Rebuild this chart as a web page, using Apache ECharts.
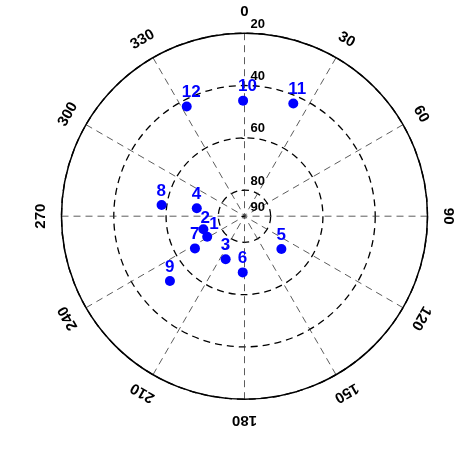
<!DOCTYPE html>
<html>
<head>
<meta charset="utf-8">
<script src="https://cdn.jsdelivr.net/npm/echarts@6/dist/echarts.min.js"></script>
<style>html,body{margin:0;padding:0;background:#fff;}#c{width:473px;height:449px;}</style>
</head>
<body>
<div id="c"></div>
<script>
const satIds = ['1','2','3','4','5','6','7','8','9','10','11','12'];
const azimuth = [241.1, 252.4, 203.6, 279.4, 131.7, 181.8, 237.0, 277.7, 229.0, 359.3, 23.4, 332.2];
const elevation = [73.7, 73.5, 72.0, 71.5, 71.1, 68.5, 67.4, 58.0, 52.2, 45.8, 43.0, 42.6];
const angleTicks = [0, 30, 60, 90, 120, 150, 180, 210, 240, 270, 300, 330];
const angleTickLabels = ['0','30','60','90','120','150','180','210','240','270','300','330'];
const radiusTicks = [20, 40, 60, 80, 90];
const radiusTickLabels = ['20','40','60','80','90'];

const FONT = 'Liberation Sans, Arial, Helvetica, sans-serif';
const LABEL_R = 12; // elevation value just outside the outer ring for azimuth labels
// label placement tweaks (style only) for crowded points "1" and "2"
const labelNudge = { 0: [2, -12], 1: [-3, -11] };

const chart = echarts.init(document.getElementById('c'), null, {renderer: 'canvas'});
chart.setOption({
  animation: false,
  backgroundColor: '#fff',
  polar: { center: [244.5, 216.2], radius: 183 },
  angleAxis: {
    type: 'value', min: 0, max: 360, interval: 30, startAngle: 90, clockwise: true,
    axisLine: { show: true, lineStyle: { color: '#000', width: 1.5 } },
    axisTick: { show: false },
    axisLabel: { show: false },
    splitLine: { show: true, lineStyle: { color: '#333', width: 0.8, type: [7, 5] } }
  },
  radiusAxis: {
    type: 'value', inverse: true, min: 20, max: 90, interval: 20,
    axisLine: { show: false },
    axisTick: { show: true, length: 3, lineStyle: { color: '#000' } },
    axisLabel: { show: false },
    splitLine: { show: true, lineStyle: { color: '#000', width: 1.3, type: [7, 5] } }
  },
  series: [
    {
      type: 'scatter', coordinateSystem: 'polar', clip: false, silent: true,
      symbolSize: 10, itemStyle: { color: '#0000ff', opacity: 1 },
      data: elevation.map(function (e, i) {
        return {
          value: [e, azimuth[i]],
          label: { offset: labelNudge[i] || [-5, -14] }
        };
      }),
      label: {
        show: true, position: 'inside', align: 'left', verticalAlign: 'middle',
        color: '#0000ff', fontSize: 17, fontWeight: 'bold', fontFamily: FONT,
        textBorderWidth: 0,
        formatter: function (p) { return satIds[p.dataIndex]; }
      }
    },
    {
      type: 'scatter', coordinateSystem: 'polar', clip: false, silent: true,
      symbolSize: 1, itemStyle: { color: '#fff', opacity: 1 },
      data: angleTicks.map(function (a, i) {
        return {
          value: [LABEL_R, a],
          label: {
            show: true, position: 'inside', rotate: -a,
            color: '#000', fontSize: 15, fontWeight: 'bold', fontFamily: FONT,
            textBorderWidth: 0,
            formatter: angleTickLabels[i]
          }
        };
      })
    },
    {
      type: 'scatter', coordinateSystem: 'polar', clip: false, silent: true,
      symbolSize: 0, itemStyle: { color: 'rgba(0,0,0,0)', opacity: 1 },
      z: 5,
      data: radiusTicks.map(function (v, i) {
        return {
          value: [v, 0],
          label: {
            show: true, position: 'inside', align: 'left', verticalAlign: 'middle',
            offset: [6, -9],
            color: '#000', fontSize: 13, fontWeight: 'bold', fontFamily: FONT,
            textBorderWidth: 0,
            formatter: radiusTickLabels[i]
          }
        };
      })
    }
  ]
});
</script>
</body>
</html>
